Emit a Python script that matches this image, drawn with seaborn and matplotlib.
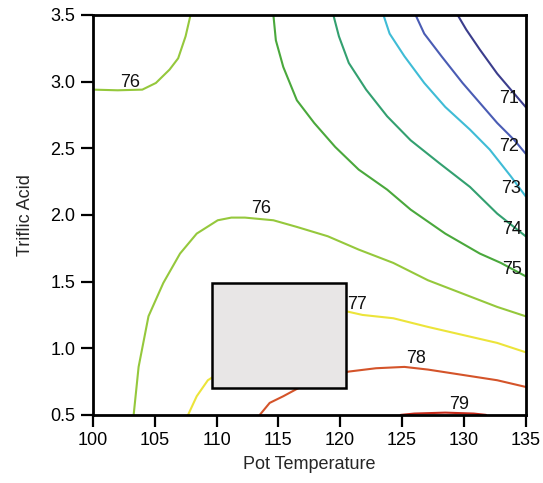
import matplotlib
matplotlib.use("Agg")
import matplotlib.pyplot as plt
from matplotlib.patches import Rectangle
import seaborn as sns
import pandas as pd

# 等高線（図から読み取った点）
c71_x = [129.5, 130.2, 131.3, 132.7, 133.8, 135.0]
c71_y = [3.50, 3.39, 3.24, 3.06, 2.94, 2.81]

c72_x = [126.1, 126.8, 128.2, 129.9, 131.3, 132.7, 134.1, 135.0]
c72_y = [3.50, 3.36, 3.19, 2.99, 2.84, 2.69, 2.56, 2.46]

c73_x = [123.5, 124.0, 125.2, 126.8, 128.5, 130.5, 132.1, 133.8, 135.0]
c73_y = [3.50, 3.36, 3.19, 2.99, 2.81, 2.64, 2.49, 2.29, 2.14]

c74_x = [119.45, 119.9, 120.7, 122.1, 123.8, 125.7, 128.0, 130.5, 132.7, 135.0]
c74_y = [3.50, 3.34, 3.14, 2.94, 2.74, 2.56, 2.39, 2.21, 2.01, 1.84]

c75_x = [114.6, 114.8, 115.4, 116.5, 117.9, 119.6, 121.5, 123.8, 125.7, 128.5, 131.3, 133.0, 135.0]
c75_y = [3.50, 3.31, 3.11, 2.86, 2.69, 2.51, 2.34, 2.19, 2.04, 1.86, 1.71, 1.64, 1.54]

c76a_x = [100.0, 102.0, 104.0, 105.1, 106.2, 106.9, 107.5, 107.9]
c76a_y = [2.94, 2.935, 2.94, 2.99, 3.09, 3.175, 3.34, 3.50]

c76b_x = [103.3, 103.7, 104.5, 105.7, 107.05, 108.4, 110.1, 111.2, 112.3, 114.6, 116.5,
          119.0, 121.5, 124.3, 127.1, 129.9, 132.7, 135.0]
c76b_y = [0.50, 0.86, 1.24, 1.49, 1.71, 1.86, 1.96, 1.98, 1.98, 1.96, 1.91,
          1.84, 1.74, 1.64, 1.51, 1.41, 1.31, 1.24]

c77_x = [107.7, 108.4, 109.3, 113.0, 117.0, 120.6, 121.8, 124.3, 127.1, 129.9, 132.7, 135.0]
c77_y = [0.50, 0.64, 0.76, 0.98, 1.17, 1.275, 1.25, 1.225, 1.16, 1.10, 1.04, 0.97]

c78_x = [113.5, 114.3, 115.4, 116.5, 118.5, 120.7, 122.9, 125.2, 127.1, 129.9, 132.7, 135.0]
c78_y = [0.50, 0.59, 0.64, 0.695, 0.78, 0.825, 0.85, 0.86, 0.84, 0.80, 0.76, 0.71]

c79_x = [124.9, 126.0, 128.5, 130.8, 131.8]
c79_y = [0.50, 0.51, 0.517, 0.51, 0.50]

contours = [
    (c71_x, c71_y, "#3b3d8c"),
    (c72_x, c72_y, "#4a5cb4"),
    (c73_x, c73_y, "#3fbcd6"),
    (c74_x, c74_y, "#33a070"),
    (c75_x, c75_y, "#4aa83c"),
    (c76a_x, c76a_y, "#95c83c"),
    (c76b_x, c76b_y, "#95c83c"),
    (c77_x, c77_y, "#ece43a"),
    (c78_x, c78_y, "#d4542a"),
    (c79_x, c79_y, "#c42a1a"),
]

# ラベル
label_text = ["71", "72", "73", "74", "75", "76", "76", "77", "78", "79"]
label_x = [133.7, 133.7, 133.8, 133.9, 133.9, 103.0, 113.6, 121.4, 126.1, 129.6]
label_y = [2.875, 2.51, 2.20, 1.89, 1.59, 2.99, 2.05, 1.33, 0.925, 0.575]

# 灰色の四角
box_x0, box_x1 = 109.6, 120.5
box_y0, box_y1 = 0.70, 1.49

sns.set_style("white")
plt.rcParams['font.family'] = ['Liberation Sans', 'DejaVu Sans']

fig = plt.figure(figsize=(5.43, 4.83), dpi=100)
ax = fig.add_axes([0.171, 0.141, 0.797, 0.828])

for cx, cy, col in contours:
    df = pd.DataFrame({"x": cx, "y": cy})
    sns.lineplot(data=df, x="x", y="y", sort=False, estimator=None,
                 color=col, linewidth=1.5, ax=ax)

ax.add_patch(Rectangle((box_x0, box_y0), box_x1 - box_x0, box_y1 - box_y0,
                       facecolor="#e8e6e6", edgecolor="black", linewidth=1.8, zorder=5))

for t, lx, ly in zip(label_text, label_x, label_y):
    ax.text(lx, ly, t, fontsize=13, ha="center", va="center", color="#111111", zorder=6)

ax.set_xlim(100, 135)
ax.set_ylim(0.5, 3.5)
ax.set_xticks([100, 105, 110, 115, 120, 125, 130, 135])
ax.set_yticks([0.5, 1.0, 1.5, 2.0, 2.5, 3.0, 3.5])
ax.set_yticklabels(["0.5", "1.0", "1.5", "2.0", "2.5", "3.0", "3.5"])
ax.set_xlabel("Pot Temperature", fontsize=13, labelpad=5)
ax.set_ylabel("Triflic Acid", fontsize=13, labelpad=12)
ax.tick_params(axis="both", direction="out", length=8.5, width=1.6, labelsize=13,
               pad=4, bottom=True, left=True, colors="black")
for s in ax.spines.values():
    s.set_color("black")
    s.set_linewidth(2)

fig.savefig("out.png", dpi=100)
